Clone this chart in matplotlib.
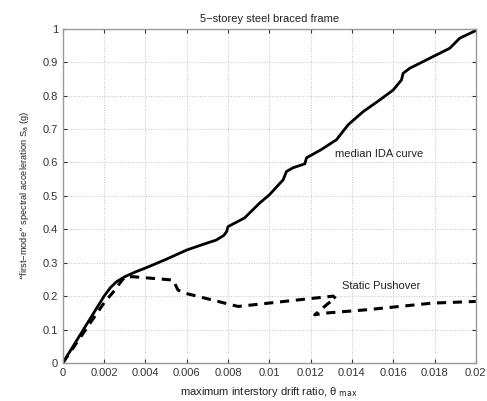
import matplotlib
matplotlib.use("Agg")
import matplotlib.pyplot as plt
import numpy as np

# median IDA curve (drift ratio, Sa)
ida_x = [0, 0.0005, 0.001, 0.0015, 0.002, 0.0023, 0.0026, 0.003, 0.0035, 0.004,
         0.005, 0.006, 0.0068, 0.00744, 0.0078, 0.00793, 0.008, 0.0088, 0.00954,
         0.01, 0.0104, 0.01067, 0.01083, 0.01114, 0.01172, 0.0118, 0.0125, 0.01325,
         0.01382, 0.01454, 0.0153, 0.016, 0.0164, 0.01648, 0.0168, 0.01793,
         0.01874, 0.01922, 0.02]
ida_y = [0, 0.05, 0.1, 0.15, 0.2, 0.225, 0.243, 0.258, 0.272, 0.284,
         0.31, 0.338, 0.355, 0.368, 0.382, 0.393, 0.408, 0.434, 0.479,
         0.503, 0.53, 0.548, 0.573, 0.584, 0.596, 0.614, 0.638, 0.668,
         0.713, 0.752, 0.785, 0.817, 0.847, 0.867, 0.882, 0.917,
         0.942, 0.972, 0.995]

# static pushover curve
po_x = [0, 0.0005, 0.001, 0.0015, 0.002, 0.00252, 0.00276, 0.003, 0.0034, 0.00534,
        0.00558, 0.0059, 0.00849, 0.01309, 0.01322, 0.01285, 0.0122, 0.01269,
        0.0147, 0.0179, 0.02]
po_y = [0, 0.045, 0.09, 0.135, 0.18, 0.218, 0.239, 0.257, 0.258, 0.248,
        0.218, 0.209, 0.169, 0.2, 0.193, 0.178, 0.144, 0.149,
        0.159, 0.179, 0.184]

xticks = [0, 0.002, 0.004, 0.006, 0.008, 0.01, 0.012, 0.014, 0.016, 0.018, 0.02]
xtick_labels = ["0", "0.002", "0.004", "0.006", "0.008", "0.01", "0.012",
                "0.014", "0.016", "0.018", "0.02"]
yticks = [0, 0.1, 0.2, 0.3, 0.4, 0.5, 0.6, 0.7, 0.8, 0.9, 1]
ytick_labels = ["0", "0.1", "0.2", "0.3", "0.4", "0.5", "0.6", "0.7", "0.8", "0.9", "1"]

plt.rcParams["font.family"] = ["Liberation Sans", "DejaVu Sans"]

fig = plt.figure(figsize=(4.87, 4.01), dpi=100)
ax = fig.add_axes([0.129, 0.095, 0.848, 0.833])

ax.plot(ida_x, ida_y, color="black", lw=2.0)
ax.plot(po_x, po_y, color="black", lw=2.2, linestyle=(0, (3, 2.2)))

ax.set_xlim(0, 0.02)
ax.set_ylim(0, 1)
ax.set_xticks(xticks)
ax.set_xticklabels(xtick_labels)
ax.set_yticks(yticks)
ax.set_yticklabels(ytick_labels)
ax.tick_params(direction="in", labelsize=8, colors="#333333", length=3,
               top=True, right=True)
ax.grid(True, color="#c4c4c4", linestyle=":", lw=0.7)
for sp in ax.spines.values():
    sp.set_color("#999999")
    sp.set_linewidth(1.0)

ax.text(0.01317, 0.626, "median IDA curve", fontsize=8, color="#222222",
        va="center", ha="left")
ax.text(0.0135, 0.231, "Static Pushover", fontsize=8, color="#222222",
        va="center", ha="left")

ax.set_title("5\u2212storey steel braced frame", fontsize=8, color="#222222", pad=5)
ax.set_xlabel("maximum interstory drift ratio, \u03b8 $_{\\rm max}$", fontsize=8,
              color="#222222", labelpad=5)
ax.set_ylabel("\u201cfirst\u2212mode\u201d spectral acceleration S$_{\\rm a}$ (g)",
              fontsize=6.7, color="#222222", labelpad=8)

fig.savefig("out.png", dpi=100)
